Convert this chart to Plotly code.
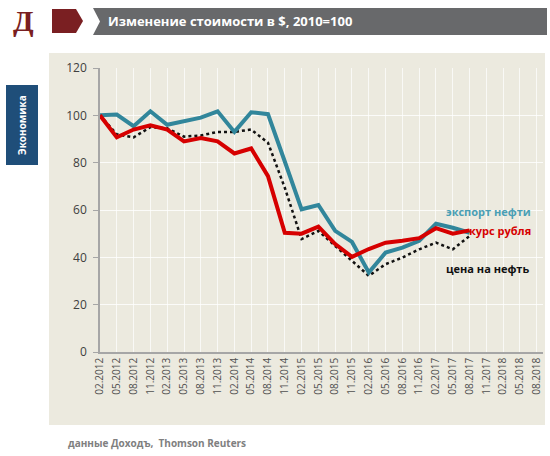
import plotly.graph_objects as go

dates = ["02.2012", "05.2012", "08.2012", "11.2012", "02.2013", "05.2013", "08.2013", "11.2013",
         "02.2014", "05.2014", "08.2014", "11.2014", "02.2015", "05.2015", "08.2015", "11.2015",
         "02.2016", "05.2016", "08.2016", "11.2016", "02.2017", "05.2017", "08.2017", "11.2017",
         "02.2018", "05.2018", "08.2018"]

export_oil = [100, 100.3, 95.4, 101.7, 96, 97.5, 99, 101.7, 93, 101.3, 100.5, 80.5, 60.3, 62.1,
              51.2, 46.5, 33.6, 42, 44.1, 47, 54.2, 52.5, 50.4]
ruble_rate = [100, 90.7, 94, 95.8, 94, 89, 90.4, 89, 83.9, 86, 74.3, 50.4, 50, 53, 45.6, 40.2,
              43.5, 46.2, 47, 48.1, 52.3, 50, 51.4]
oil_price = [100, 92, 90.7, 95, 94.5, 91, 91.5, 93, 93, 94, 88.4, 69.4, 47.7, 51.2, 44.8, 38.5,
             32.2, 37.1, 39.9, 43.4, 46.2, 43.4, 49]

y_ticks = [0, 20, 40, 60, 80, 100, 120]

title = "Изменение стоимости в $, 2010=100"
side_label = "Экономика"
source = "данные Доходъ,  Thomson Reuters"
names = ["экспорт нефти", "курс рубля", "цена на нефть"]

BLUE = "#31869B"
RED = "#D60000"
DARK_RED = "#7A1F22"
GREY = "#68696B"

W, H = 550, 456
L, R, T, B = 100, 7, 68, 104
PW, PH = W - L - R, H - T - B


def px(x):
    return (x - L) / PW


def py(y):
    return (H - B - y) / PH


fig = go.Figure()
fig.add_trace(go.Scatter(x=dates[:len(oil_price)], y=oil_price, mode="lines",
                         line=dict(color="#111111", width=2.5, dash="dot"), name=names[2]))
fig.add_trace(go.Scatter(x=dates[:len(export_oil)], y=export_oil, mode="lines",
                         line=dict(color=BLUE, width=4), name=names[0]))
fig.add_trace(go.Scatter(x=dates[:len(ruble_rate)], y=ruble_rate, mode="lines",
                         line=dict(color=RED, width=4), name=names[1]))

shapes = []
# beige panel
shapes.append(dict(type="rect", xref="paper", yref="paper", x0=px(49), x1=px(545), y0=py(425), y1=py(53),
                   fillcolor="#ECEADF", line=dict(width=0), layer="below"))
# dark red pentagon
path = "M {} {} L {} {} L {} {} L {} {} L {} {} Z".format(
    px(52), py(9), px(76), py(9), px(83), py(21), px(76), py(33), px(52), py(33))
shapes.append(dict(type="path", xref="paper", yref="paper", path=path, fillcolor=DARK_RED,
                   line=dict(width=0), layer="above"))
# grey banner
path = "M {} {} L {} {} L {} {} L {} {} L {} {} Z".format(
    px(93), py(8), px(547), py(8), px(547), py(35), px(93), py(35), px(100), py(21.5))
shapes.append(dict(type="path", xref="paper", yref="paper", path=path, fillcolor=GREY,
                   line=dict(width=0), layer="above"))
# blue side tab
shapes.append(dict(type="rect", xref="paper", yref="paper", x0=px(6), x1=px(38), y0=py(165), y1=py(85),
                   fillcolor="#1F4E79", line=dict(width=0), layer="above"))

annotations = [
    dict(text="<b>Д</b>", x=px(23), y=py(20), xref="paper", yref="paper", showarrow=False,
         font=dict(family="Liberation Serif", size=30, color=DARK_RED), xanchor="center", yanchor="middle"),
    dict(text="<b>" + title + "</b>", x=px(106), y=py(21), xref="paper", yref="paper", showarrow=False,
         font=dict(family="Open Sans", size=13, color="white"), xanchor="left", yanchor="middle"),
    dict(text="<b>" + side_label + "</b>", x=px(22), y=py(125), xref="paper", yref="paper", showarrow=False,
         textangle=-90, font=dict(family="Open Sans", size=10, color="white"), xanchor="center", yanchor="middle"),
    dict(text="<b>" + source + "</b>", x=px(66), y=py(443), xref="paper", yref="paper", showarrow=False,
         font=dict(family="Open Sans", size=10, color="#808080"), xanchor="left", yanchor="middle"),
    dict(text="<b>" + names[0] + "</b>", x=px(444), y=py(211), xref="paper", yref="paper", showarrow=False,
         font=dict(family="Open Sans", size=11, color="#4A9FB5"), xanchor="left", yanchor="middle"),
    dict(text="<b>" + names[1] + "</b>", x=px(467), y=py(230), xref="paper", yref="paper", showarrow=False,
         font=dict(family="Open Sans", size=11, color=RED), xanchor="left", yanchor="middle"),
    dict(text="<b>" + names[2] + "</b>", x=px(444), y=py(268), xref="paper", yref="paper", showarrow=False,
         font=dict(family="Open Sans", size=11, color="#111111"), xanchor="left", yanchor="middle"),
]

fig.update_layout(
    width=W, height=H,
    margin=dict(l=L, r=R, t=T, b=B),
    paper_bgcolor="white",
    plot_bgcolor="rgba(0,0,0,0)",
    showlegend=False,
    shapes=shapes,
    annotations=annotations,
    xaxis=dict(type="category", categoryorder="array", categoryarray=dates,
               tickvals=dates, ticktext=dates, range=[0, 26.37], automargin=False,
               tickangle=-90, tickfont=dict(family="Open Sans", size=10, color="#505050"),
               showgrid=True, gridcolor="rgba(255,255,255,0.7)", gridwidth=1,
               showline=True, linecolor="#A6A6A6", linewidth=1.5, ticks="", zeroline=False),
    yaxis=dict(range=[0, 120], tickvals=y_ticks, ticktext=[str(v) for v in y_ticks], automargin=False,
               tickfont=dict(family="Open Sans", size=12, color="#404040"),
               showgrid=True, gridcolor="rgba(255,255,255,0.8)", gridwidth=1,
               showline=True, linecolor="#A6A6A6", linewidth=1.5,
               ticks="outside", ticklen=5, tickcolor="#A6A6A6", zeroline=False,
               ticklabelstandoff=4),
)

fig.write_html("out.html", config={"displayModeBar": False},
               post_script="document.body.style.margin='0';document.body.style.padding='0';"
                           "document.body.style.overflow='hidden';")
